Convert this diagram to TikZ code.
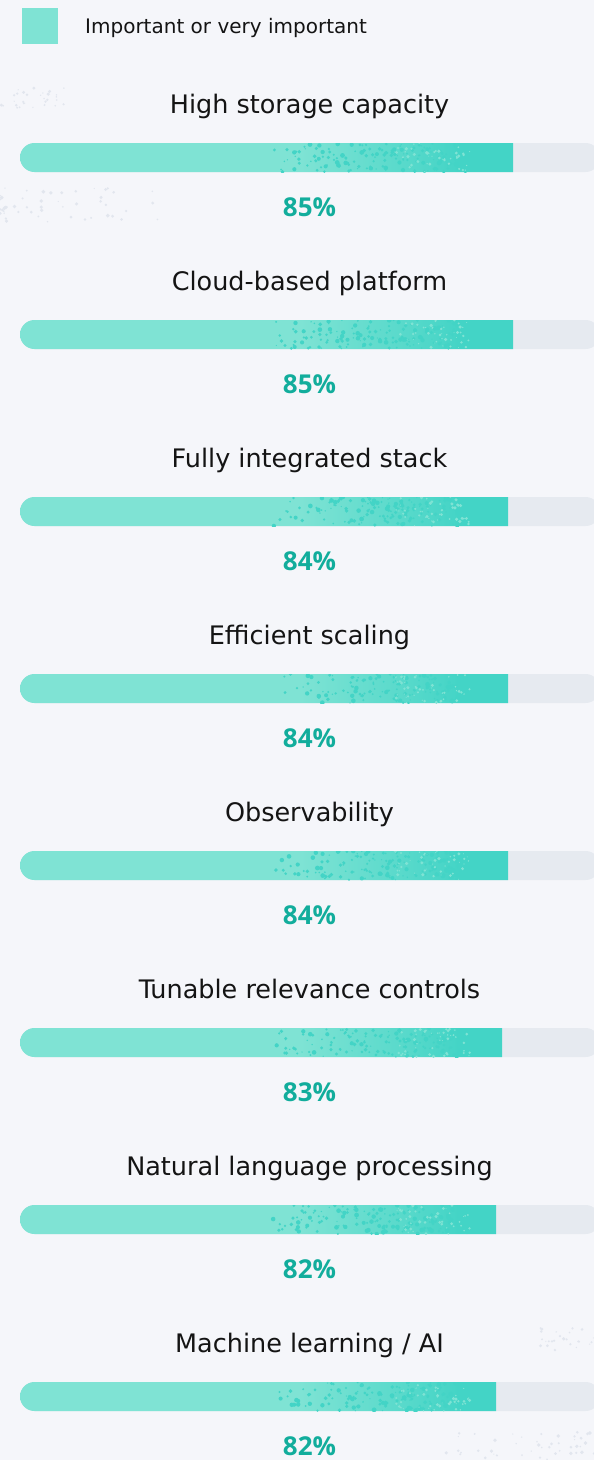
\documentclass[tikz,border=0pt]{standalone}
\usepackage{fontspec}
\setmainfont{DejaVu Sans}
\newfontfamily\pctfont{Open Sans}
\definecolor{pagebg}{HTML}{F5F6FA}
\definecolor{tealLight}{HTML}{7FE3D4}
\definecolor{tealDark}{HTML}{43D4C6}
\definecolor{trackgray}{HTML}{E6EAF0}
\definecolor{pcttext}{HTML}{12AD9C}
\definecolor{dustgray}{HTML}{E2E6EE}
\pgfdeclarehorizontalshading{barfade}{100bp}{color(0bp)=(tealLight); color(49bp)=(tealLight); color(63bp)=(tealDark); color(100bp)=(tealDark)}

\begin{document}
\begin{tikzpicture}[x=1pt, y=-1pt,
    title/.style={anchor=base, inner sep=0pt, font=\fontsize{25.5}{30}\selectfont, text=black!92},
    pct/.style={anchor=base, inner sep=0pt, font=\pctfont\fontsize{26}{30}\selectfont\bfseries, text=pcttext},
    track/.style={fill=trackgray, rounded corners=14.5pt},
    barfill/.style={shading=barfade, rounded corners=14.5pt},
    speck/.style={fill=tealDark},
    lightspeck/.style={fill=tealLight},
    dust/.style={fill=dustgray}]
      \useasboundingbox (0,0) rectangle (594,1460);
      \fill[pagebg] (0,0) rectangle (594,1460);
      \pgfmathsetseed{11}

      % faint dust in the background
      \foreach \k in {1,...,30}
        \fill[dust] ({70*rnd},{88+22*rnd}) circle ({0.6+1.2*rnd});
      \foreach \k in {1,...,50}
        \fill[dust] ({160*rnd^1.5},{188+34*rnd}) circle ({0.6+1.4*rnd});
      \foreach \k in {1,...,25}
        \fill[dust] ({540+54*rnd},{1328+26*rnd}) circle ({0.6+1.2*rnd});
      \foreach \k in {1,...,45}
        \fill[dust] ({594-150*rnd^1.5},{1432+28*rnd}) circle ({0.6+1.4*rnd});

      % Legend
      \node[fill=tealLight, minimum size=36pt, inner sep=0pt] (key) at (40,26) {};
      \node[anchor=base west, inner sep=0pt, font=\fontsize{20}{24}\selectfont, text=black!92] (keytext) at (85,33) {Important or very important};

      % Bars: label / value / end of the filled part
      \foreach \lbl/\val/\xe [count=\i] in {
          High storage capacity/85/513,
          Cloud-based platform/85/513,
          Fully integrated stack/84/508,
          Efficient scaling/84/508,
          Observability/84/508,
          Tunable relevance controls/83/502,
          Natural language processing/82/496,
          {Machine learning / AI}/82/496} {
        \pgfmathsetmacro{\dy}{177*(\i-1)}
        \node[title] (t\i) at (309.5,113+\dy) {\lbl};
        \fill[track] (20,143+\dy) rectangle (600,172+\dy);
        \begin{scope}
          \clip (20,143+\dy) rectangle (\xe,172+\dy);
          \shade[barfill] (20,143+\dy) rectangle (600,172+\dy);
          % speckled fade
          \foreach \k in {1,...,150}
            \fill[speck] ({272+195*rnd^0.7},{143+29*rnd+\dy}) circle ({0.6+1.8*rnd});
          \foreach \k in {1,...,45}
            \fill[lightspeck] ({395+75*rnd},{143+29*rnd+\dy}) circle ({0.5+1.3*rnd});
        \end{scope}
        \node[pct] (p\i) at (309.5,216+\dy) {\val\%};
      }
    \end{tikzpicture}
\end{document}
